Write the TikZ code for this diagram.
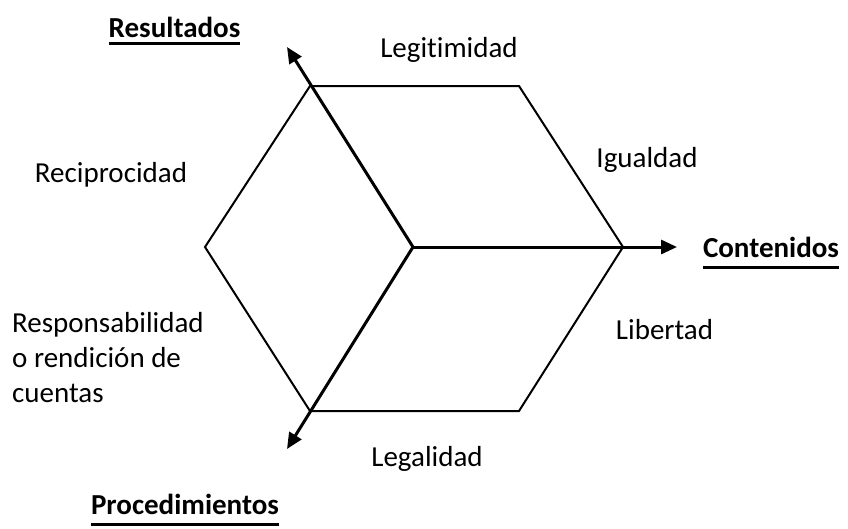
\documentclass[tikz,border=0pt]{standalone}
\usepackage{fontspec}
\setmainfont{Carlito}[Ligatures=NoCommon]
\usetikzlibrary{arrows.meta}
\begin{document}
\begin{tikzpicture}[x=1pt,y=-1pt,
  hexline/.style={line width=2pt, line join=miter},
  axisline/.style={line width=3pt, -{Triangle[length=16pt,width=14pt]}},
  lbl/.style={inner sep=0pt, anchor=base, font=\fontsize{29}{35}\selectfont},
  ttl/.style={inner sep=0pt, anchor=base, font=\fontsize{29}{35}\selectfont\bfseries},
  uline/.style={line width=3pt}]
\useasboundingbox (0,0) rectangle (848,528);
% hexagon vertices
\coordinate (O) at (413,247);
\coordinate (TL) at (310,86);
\coordinate (TR) at (519,86);
\coordinate (RR) at (623,247);
\coordinate (BR) at (519,411);
\coordinate (BL) at (310,411);
\coordinate (LL) at (205,247);
% axis ends
\coordinate (AR) at (287,47);
\coordinate (AC) at (677,247);
\coordinate (AP) at (287,449);
% hexagon outline
\draw[hexline] (TL) -- (TR) -- (RR) -- (BR) -- (BL) -- (LL) -- cycle;
% axes
\draw[axisline] (O) -- (AR);
\draw[axisline] (O) -- (AC);
\draw[axisline] (O) -- (AP);
% axis titles
\node[ttl] (res) at (174.5,37) {Resultados};
\node[ttl] (con) at (771,257) {Contenidos};
\node[ttl] (pro) at (185,514) {Procedimientos};
\draw[uline] ([yshift=-6pt]res.base west) -- ([yshift=-6pt]res.base east);
\draw[uline] ([yshift=-10pt]con.base west) -- ([yshift=-10pt]con.base east);
\draw[uline] ([yshift=-10pt]pro.base west) -- ([yshift=-10pt]pro.base east);
% labels
\node[lbl] (leg) at (449,57) {Legitimidad};
\node[lbl] (rec) at (111,182) {Reciprocidad};
\node[lbl] (igu) at (647,167) {Igualdad};
\node[lbl] (lib) at (664.5,339) {Libertad};
\node[lbl] (lgl) at (427,466) {Legalidad};
\node[lbl, anchor=base west, align=left] (rsp) at (12,402) {Responsabilidad\\o rendición de\\cuentas};
\end{tikzpicture}
\end{document}
